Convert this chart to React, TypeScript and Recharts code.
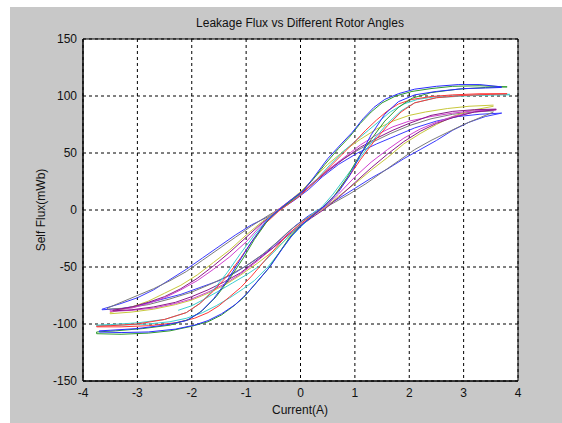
import { LineChart, Line, XAxis, YAxis, CartesianGrid, ReferenceArea } from 'recharts';

// tick values
const xTicks = [-4, -3, -2, -1, 0, 1, 2, 3, 4];
const yTicks = [-150, -100, -50, 0, 50, 100, 150];

// hysteresis loops, [current A, flux mWb], descending branch then ascending branch
const greenLoop: [number, number][] = [
  [3.8, 108], [3.3, 109], [2.8, 108.5], [2.4, 106.5], [2.05, 104], [1.75, 100], [1.5, 94], [1.3, 86], [1.1, 76], [0.9, 64],
  [0.7, 54], [0.45, 40], [0.2, 25], [0, 15], [-0.2, 7], [-0.4, 0], [-0.6, -9], [-0.85, -26], [-1.05, -42], [-1.3, -60],
  [-1.55, -76], [-1.8, -88], [-2.05, -96], [-2.4, -101], [-2.9, -104], [-3.4, -106], [-3.75, -107],
  [-3.75, -108.5], [-3.3, -109], [-2.8, -108], [-2.4, -106], [-2.0, -102], [-1.7, -98], [-1.45, -92], [-1.25, -85], [-1.05, -77],
  [-0.85, -66], [-0.6, -52], [-0.4, -38], [-0.2, -24], [0, -14], [0.2, -6], [0.4, 2], [0.6, 11], [0.85, 28], [1.05, 45],
  [1.3, 62], [1.55, 78], [1.8, 90], [2.05, 98], [2.4, 103], [2.9, 106], [3.4, 107.5], [3.8, 108],
];

const blueALoop: [number, number][] = [
  [3.7, 108], [3.3, 110], [2.9, 110], [2.5, 108.5], [2.1, 106], [1.8, 102], [1.55, 97], [1.35, 90], [1.15, 80], [0.95, 68],
  [0.75, 58], [0.5, 45], [0.25, 29], [0.05, 17], [-0.2, 8], [-0.4, 0], [-0.65, -11], [-0.9, -28], [-1.1, -43], [-1.35, -62],
  [-1.6, -78], [-1.85, -90], [-2.1, -97], [-2.5, -101], [-3.0, -104], [-3.5, -105.5], [-3.7, -106],
  [-3.7, -107], [-3.3, -107.5], [-2.8, -107], [-2.3, -104.5], [-1.95, -101], [-1.7, -97], [-1.45, -91], [-1.2, -83], [-1.0, -74],
  [-0.8, -63], [-0.55, -49], [-0.35, -35], [-0.15, -22], [0.05, -12], [0.25, -4], [0.45, 4], [0.7, 16], [0.9, 30], [1.1, 48],
  [1.3, 66], [1.55, 84], [1.8, 95], [2.1, 101], [2.5, 104], [3.0, 106.5], [3.4, 107], [3.7, 107.5],
];

const redLoop: [number, number][] = [
  [3.8, 102], [3.3, 102], [2.8, 101], [2.4, 99.5], [2.05, 97], [1.8, 93], [1.6, 87], [1.4, 79], [1.2, 70], [1.0, 60],
  [0.75, 48], [0.5, 36], [0.25, 24], [0, 13], [-0.2, 6], [-0.4, -1], [-0.65, -12], [-0.9, -28], [-1.1, -42], [-1.35, -58],
  [-1.6, -71], [-1.85, -82], [-2.1, -90], [-2.5, -96], [-3.0, -100], [-3.5, -101.5], [-3.75, -102],
  [-3.75, -102.5], [-3.3, -102.5], [-2.8, -101.5], [-2.3, -99], [-1.95, -95], [-1.7, -90], [-1.5, -84], [-1.3, -76], [-1.1, -68],
  [-0.9, -58], [-0.65, -44], [-0.45, -33], [-0.25, -22], [0, -12], [0.2, -5], [0.4, 2], [0.65, 14], [0.9, 30], [1.1, 44],
  [1.35, 60], [1.6, 74], [1.85, 86], [2.1, 94], [2.5, 98.5], [3.0, 100.5], [3.5, 101.5], [3.8, 102],
];

const cyanLoop: [number, number][] = [
  [3.85, 101], [3.4, 101], [2.9, 100.5], [2.5, 99.5], [2.15, 97], [1.9, 93], [1.65, 86], [1.45, 78], [1.25, 70], [1.05, 62],
  [0.8, 52], [0.55, 40], [0.3, 27], [0.05, 15], [-0.2, 7], [-0.4, 0], [-0.6, -8], [-0.85, -22], [-1.1, -38], [-1.35, -55],
  [-1.6, -70], [-1.85, -82], [-2.1, -90], [-2.5, -96], [-3.0, -99], [-3.5, -100.5], [-3.75, -101],
  [-3.75, -101.5], [-3.3, -101], [-2.8, -100], [-2.4, -98], [-2.1, -95], [-1.8, -90], [-1.55, -84], [-1.3, -77], [-1.05, -69],
  [-0.85, -62], [-0.6, -50], [-0.4, -38], [-0.2, -25], [0, -15], [0.2, -6], [0.4, 3], [0.6, 14], [0.85, 30], [1.1, 46],
  [1.35, 62], [1.6, 76], [1.85, 87], [2.1, 94], [2.5, 98.5], [3.0, 100], [3.5, 101], [3.85, 101.5],
];

const cyanMinor: [number, number][] = [
  [-2.25, -88], [-2.0, -84], [-1.8, -79], [-1.5, -71], [-1.25, -64], [-1.0, -57], [-0.75, -49], [-0.45, -35], [-0.2, -22], [0.05, -10], [0.3, 0],
];

const blueBLoop: [number, number][] = [
  [3.7, 85], [3.3, 84], [2.9, 82], [2.5, 78], [2.1, 72], [1.75, 65], [1.4, 58], [1.05, 50], [0.7, 40], [0.4, 29],
  [0.15, 18], [-0.1, 9], [-0.35, 1], [-0.6, -6], [-0.9, -13], [-1.2, -22], [-1.5, -32], [-1.8, -42], [-2.1, -52], [-2.4, -61],
  [-2.7, -70], [-3.0, -77], [-3.3, -82], [-3.65, -87],
  [-3.65, -87.5], [-3.3, -86.5], [-3.0, -84], [-2.6, -79], [-2.2, -74], [-1.85, -68], [-1.5, -62], [-1.2, -55], [-0.9, -46], [-0.6, -36],
  [-0.35, -25], [-0.1, -14], [0.15, -5], [0.4, 2], [0.7, 10], [1.0, 19], [1.3, 28], [1.6, 36], [1.9, 45], [2.2, 53],
  [2.5, 61], [2.8, 70], [3.1, 77], [3.4, 82], [3.7, 85],
];

const grayLoop: [number, number][] = [
  [3.55, 87], [3.2, 86], [2.8, 84], [2.4, 80], [2.0, 74], [1.65, 67], [1.3, 59], [1.0, 51], [0.7, 42], [0.4, 31],
  [0.15, 20], [-0.1, 10], [-0.35, 2], [-0.6, -5], [-0.9, -14], [-1.2, -24], [-1.5, -34], [-1.8, -44], [-2.1, -54], [-2.4, -62],
  [-2.7, -69], [-3.0, -75], [-3.3, -81], [-3.55, -86],
  [-3.55, -87], [-3.2, -86], [-2.8, -83], [-2.4, -78], [-2.0, -72], [-1.65, -65], [-1.3, -57], [-1.0, -49], [-0.7, -39], [-0.45, -29],
  [-0.2, -18], [0.05, -9], [0.3, -2], [0.6, 6], [0.9, 14], [1.2, 23], [1.5, 33], [1.8, 43], [2.1, 53], [2.4, 61],
  [2.7, 68], [3.0, 75], [3.3, 81], [3.55, 86],
];

const yellowLoop: [number, number][] = [
  [3.55, 92], [3.1, 91], [2.7, 89], [2.3, 86], [2.0, 83], [1.7, 78], [1.4, 71], [1.1, 62], [0.8, 52], [0.5, 40],
  [0.25, 28], [0, 16], [-0.2, 8], [-0.45, -1], [-0.7, -10], [-1.0, -22], [-1.3, -35], [-1.6, -46], [-1.9, -57], [-2.2, -66],
  [-2.5, -73], [-2.8, -80], [-3.1, -85], [-3.5, -90],
  [-3.5, -91], [-3.1, -89.5], [-2.7, -87], [-2.3, -83], [-2.0, -79], [-1.7, -73], [-1.4, -66], [-1.1, -57], [-0.8, -47], [-0.5, -36],
  [-0.25, -25], [0, -14], [0.2, -6], [0.45, 2], [0.7, 12], [1.0, 23], [1.3, 35], [1.6, 46], [1.9, 58], [2.2, 67],
  [2.5, 75], [2.8, 82], [3.1, 87], [3.55, 91],
];

const magentaLoop: [number, number][] = [
  [3.6, 88], [3.2, 87], [2.8, 85], [2.4, 82], [2.0, 78], [1.7, 73], [1.4, 66], [1.1, 57], [0.8, 46], [0.5, 35],
  [0.25, 25], [0, 15], [-0.2, 8], [-0.45, -1], [-0.7, -12], [-1.0, -28], [-1.3, -41], [-1.6, -52], [-1.9, -62], [-2.2, -70],
  [-2.5, -77], [-2.8, -82], [-3.1, -86], [-3.5, -88],
  [-3.5, -89], [-3.1, -88], [-2.7, -86], [-2.3, -82], [-2.0, -78], [-1.7, -72], [-1.4, -65], [-1.1, -56], [-0.8, -45], [-0.5, -33],
  [-0.25, -22], [0, -13], [0.2, -6], [0.45, 3], [0.7, 14], [1.0, 29], [1.3, 42], [1.6, 53], [1.9, 63], [2.2, 71],
  [2.5, 77], [2.8, 82], [3.2, 86], [3.6, 88],
];

const purpleLoop: [number, number][] = [
  [3.6, 88.5], [3.2, 88], [2.8, 86.5], [2.4, 83], [2.0, 76], [1.7, 70], [1.4, 63], [1.1, 55], [0.8, 45], [0.5, 34],
  [0.25, 24], [0, 14], [-0.2, 7], [-0.45, -2], [-0.7, -11], [-1.0, -24], [-1.3, -37], [-1.6, -49], [-1.9, -60], [-2.2, -69],
  [-2.5, -76], [-2.8, -81], [-3.1, -85], [-3.45, -88],
  [-3.45, -88.5], [-3.1, -87.5], [-2.7, -85], [-2.3, -81], [-2.0, -76], [-1.7, -70], [-1.4, -63], [-1.1, -55], [-0.8, -44], [-0.5, -33],
  [-0.25, -23], [0, -14], [0.2, -7], [0.45, 1], [0.7, 11], [1.0, 24], [1.3, 37], [1.6, 49], [1.9, 60], [2.2, 69],
  [2.5, 76], [2.8, 81], [3.2, 86], [3.6, 88],
];

const series = [
  { name: 'blueB', color: '#3a3aff', points: blueBLoop },
  { name: 'gray', color: '#7a7a7a', points: grayLoop },
  { name: 'yellow', color: '#c8c83c', points: yellowLoop },
  { name: 'magenta', color: '#d040d0', points: magentaLoop },
  { name: 'purple', color: '#8a1a8a', points: purpleLoop },
  { name: 'cyan', color: '#3ccfcf', points: cyanLoop },
  { name: 'cyanMinor', color: '#3ccfcf', points: cyanMinor },
  { name: 'red', color: '#ff3838', points: redLoop },
  { name: 'green', color: '#2e9a2e', points: greenLoop },
  { name: 'blueA', color: '#2b2bff', points: blueALoop },
];

const font = '"Liberation Sans", Arial, sans-serif';

export default function App() {
  return (
    <div style={{ position: 'absolute', left: 0, top: 0, width: 562, height: 423, background: '#fff', fontFamily: font }}>
      <div style={{ position: 'absolute', left: 10, top: 7, right: 0, bottom: 0, background: '#c8c8c8' }} />
      <div style={{ position: 'absolute', left: 0, top: 0 }}>
        <LineChart width={562} height={423} margin={{ top: 39, right: 44, bottom: 0, left: 0 }}>
          <CartesianGrid stroke="#000" strokeDasharray="3 3" fill="#fff" />
          <XAxis
            type="number"
            dataKey="x"
            domain={[-4, 4]}
            ticks={xTicks}
            allowDataOverflow
            height={42}
            tickLine={false}
            tickSize={0}
            tickMargin={7}
            axisLine={{ stroke: '#000' }}
            tick={{ fill: '#111', fontSize: 12, fontFamily: font }}
          />
          <YAxis
            type="number"
            domain={[-150, 150]}
            ticks={yTicks}
            allowDataOverflow
            width={83}
            tickLine={false}
            tickSize={0}
            tickMargin={6}
            axisLine={{ stroke: '#000' }}
            tick={{ fill: '#111', fontSize: 12, fontFamily: font }}
          />
          {series.map((s) => (
            <Line
              key={s.name}
              data={s.points.map(([x, y]) => ({ x, y }))}
              dataKey="y"
              type="linear"
              stroke={s.color}
              strokeWidth={1}
              dot={false}
              activeDot={false}
              isAnimationActive={false}
            />
          ))}
          <ReferenceArea x1={-4} x2={4} y1={-150} y2={150} fill="none" stroke="#000" strokeWidth={1} />
        </LineChart>
      </div>
      <div style={{ position: 'absolute', left: 100, width: 400, top: 16, textAlign: 'center', fontSize: 12, lineHeight: '14px', color: '#111' }}>
        Leakage Flux vs Different Rotor Angles
      </div>
      <div style={{ position: 'absolute', left: 200, width: 200, top: 403, textAlign: 'center', fontSize: 12, lineHeight: '14px', color: '#111' }}>
        Current(A)
      </div>
      <div
        style={{
          position: 'absolute',
          left: 41 - 60,
          top: 210 - 7,
          width: 120,
          textAlign: 'center',
          fontSize: 12,
          lineHeight: '14px',
          color: '#111',
          transform: 'rotate(-90deg)',
        }}
      >
        Self Flux(mWb)
      </div>
    </div>
  );
}
